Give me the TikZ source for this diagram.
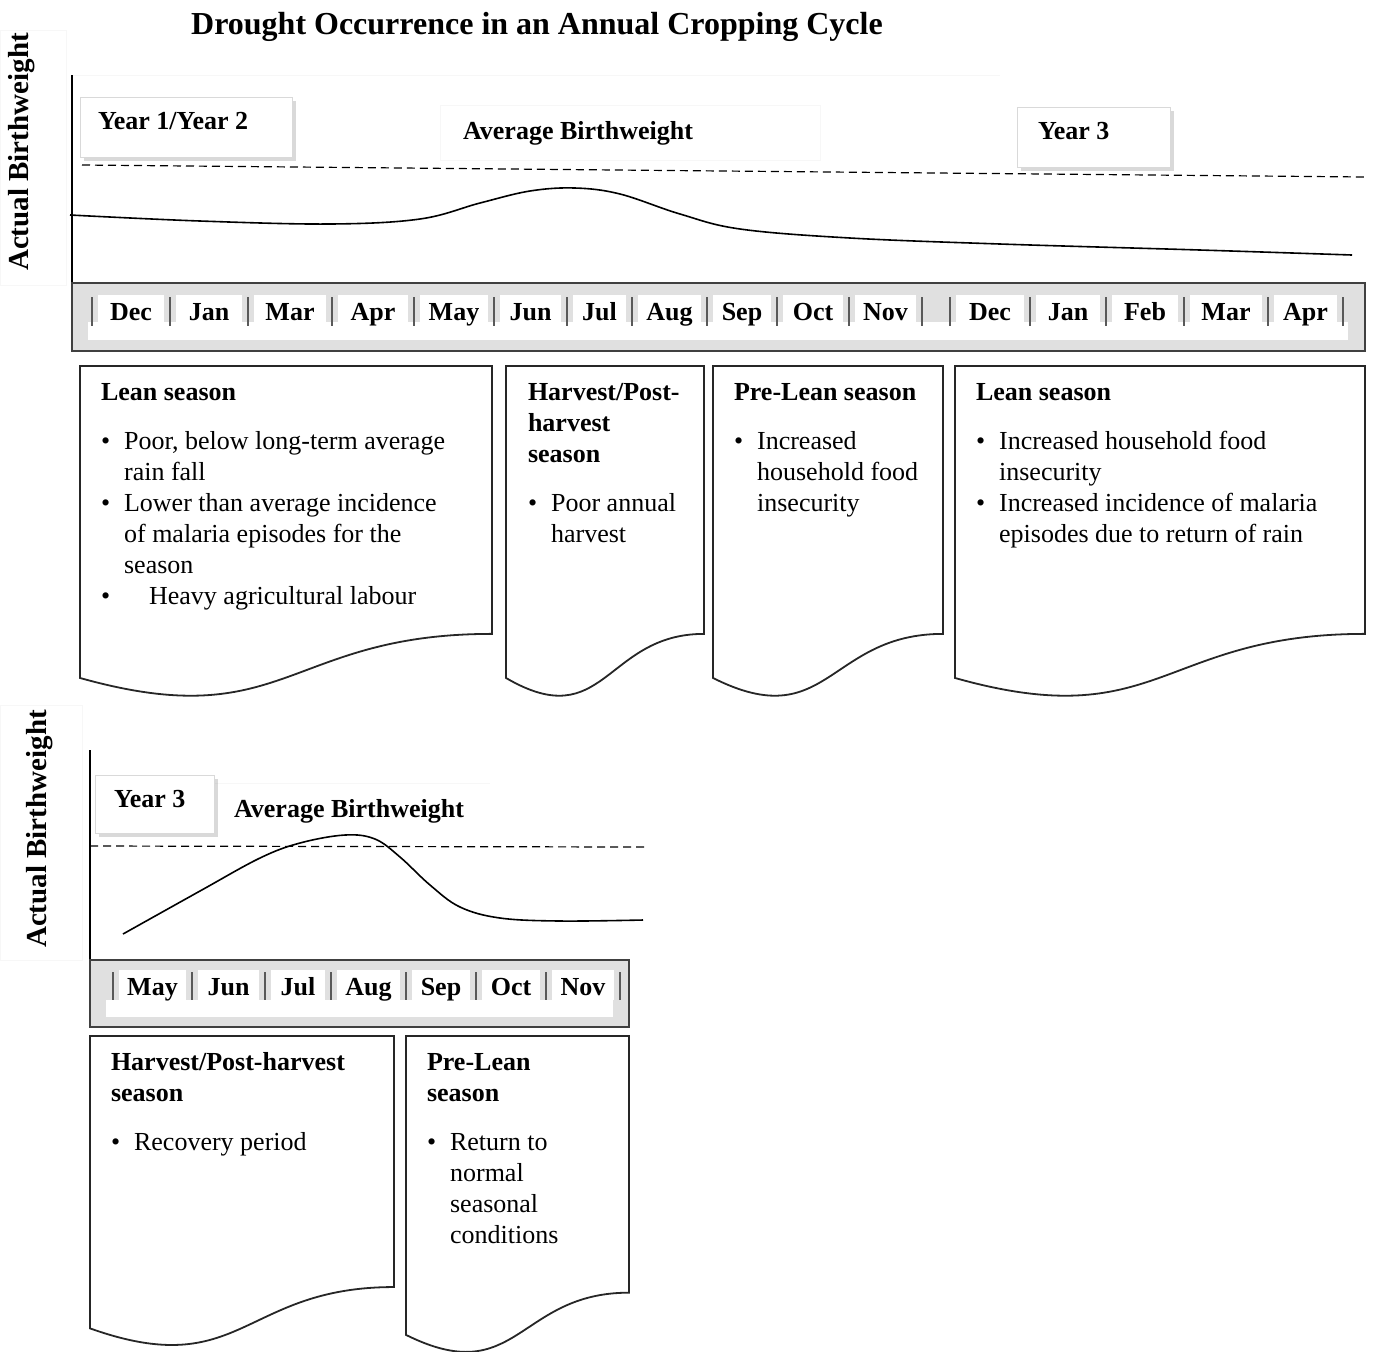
\documentclass[tikz,border=0pt]{standalone}
\usepackage{fontspec}
\setmainfont{Liberation Serif}
\usetikzlibrary{shadows}
\newcommand{\hd}[1]{\multicolumn{2}{@{}l@{}}{\bfseries #1}}

\begin{document}
\begin{tikzpicture}[x=0.5pt,y=-0.5pt,
        every node/.style={inner sep=0pt,outer sep=0pt},
        lbl/.style={font=\fontsize{13}{15.5}\selectfont\bfseries},
        mon/.style={lbl,anchor=base},
        axlbl/.style={font=\fontsize{14.5}{17}\selectfont\bfseries,rotate=90},
        yearbox/.style={draw=black!15,fill=white,drop shadow={shadow xshift=2pt,shadow yshift=-2pt,opacity=0.3}},
        seasontxt/.style={anchor=base west,font=\fontsize{13}{15.5}\selectfont},
        docbox/.style={draw=black!85,line width=0.9pt,fill=white},
        monbar/.style={draw=black!75,line width=1.2pt,fill=black!12},
        sep/.style={draw=black!65,line width=1.2pt},
        avg/.style={dash pattern=on 4pt off 2.5pt,line width=0.6pt},
        bw/.style={line width=0.8pt},
        faint/.style={draw=black!3,line width=0.5pt}]
        \useasboundingbox (0,0) rectangle (1374,1351);

        \node[font=\fontsize{16}{19}\selectfont\bfseries,anchor=base](title) at (537,34){Drought Occurrence in an Annual Cropping Cycle};

        \draw[faint](0,30) rectangle (66,285);
        \draw[faint](72,75)--(1000,75);
        \draw[faint](440,105) rectangle (820,160);
        \node[axlbl](ax1) at (22,152){Actual Birthweight};
        \draw[line width=1pt](72,75)--(72,283);

        \node[yearbox,minimum width=106pt,minimum height=30pt](yr12) at (186,127){};
        \node[lbl,anchor=base west](yr12txt) at (98,129){Year 1/Year 2};
        \node[lbl,anchor=base](avg1) at (578,139){Average Birthweight};
        \node[yearbox,minimum width=76.5pt,minimum height=30pt](yr3a) at (1093.5,137){};
        \node[lbl,anchor=base west](yr3atxt) at (1038,139){Year 3};

        \draw[avg](82,165)--(1365,177);
        \draw[bw] plot[smooth,tension=0.6] coordinates {(70,215) (200,221) (330,224) (420,219) (480,203) (530,191) (575,188) (620,194) (680,214) (740,229) (850,238) (1000,244) (1200,250) (1352,255)};

        \draw[monbar](72,283) rectangle (1365,351);
        \fill[white](88,322) rectangle (1348,340);
        \foreach \a/\b/\m [count=\i] in {92/170/Dec,170/248/Jan,248/332/Mar,332/414/Apr,414/494/May,494/567/Jun,567/632/Jul,632/707/Aug,707/777/Sep,777/849/Oct,849/922/Nov,950/1030/Dec,1030/1106/Jan,1106/1184/Feb,1184/1268/Mar,1268/1343/Apr}{
            \fill[white]({\a+6},295) rectangle ({\b-6},326);
            \node[mon](ma\i) at ({(\a+\b)/2},320){\m};
        }
        \foreach \x in {92,170,248,332,414,494,567,632,707,777,849,922,950,1030,1106,1184,1268,1343}
            \draw[sep](\x,297)--(\x,326);

        \foreach \xa/\xb/\yt/\h in {80/492/366/334,506/704/366/334,713/943/366/334,955/1365/366/334,90/394/1036/313,406/629/1036/320}
            \draw[docbox](\xa,\yt)--(\xb,\yt)--(\xb,{\yt+0.802*\h}) .. controls ({(\xa+\xb)/2},{\yt+0.802*\h}) and ({(\xa+\xb)/2},{\yt+1.107*\h}) .. (\xa,{\yt+0.934*\h})--cycle;

        \node[seasontxt](lean1) at (101,400){\begin{tabular}[t]{@{}l@{\hspace{7pt}}l@{}}
            \hd{Lean season}\\[9pt]
            \textbullet & Poor, below long-term average\\
            & rain fall\\
            \textbullet & Lower than average incidence\\
            & of malaria episodes for the\\
            & season\\
            \textbullet & \hspace{12.5pt}Heavy agricultural labour
        \end{tabular}};
        \node[seasontxt](harv1) at (528,400){\begin{tabular}[t]{@{}l@{\hspace{7pt}}l@{}}
            \hd{Harvest/Post-}\\
            \hd{harvest}\\
            \hd{season}\\[9pt]
            \textbullet & Poor annual\\
            & harvest
        \end{tabular}};
        \node[seasontxt](prelean1) at (734,400){\begin{tabular}[t]{@{}l@{\hspace{7pt}}l@{}}
            \hd{Pre-Lean season}\\[9pt]
            \textbullet & Increased\\
            & household food\\
            & insecurity
        \end{tabular}};
        \node[seasontxt](lean2) at (976,400){\begin{tabular}[t]{@{}l@{\hspace{7pt}}l@{}}
            \hd{Lean season}\\[9pt]
            \textbullet & Increased household food\\
            & insecurity\\
            \textbullet & Increased incidence of malaria\\
            & episodes due to return of rain
        \end{tabular}};

        \draw[faint](0,705) rectangle (82,960);
        \draw[faint](214,783)--(490,783);
        \node[axlbl](ax2) at (40,829){Actual Birthweight};
        \draw[line width=1pt](90,750)--(90,960);

        \node[yearbox,minimum width=59.5pt,minimum height=29pt](yr3b) at (154.5,804){};
        \node[lbl,anchor=base west](yr3btxt) at (114,807){Year 3};
        \node[lbl,anchor=base](avg2) at (349,817){Average Birthweight};

        \draw[avg](90,846)--(645,847);
        \draw[bw] plot[smooth,tension=0.6] coordinates {(123,934) (200,891) (260,858) (300,843) (345,835) (375,839) (400,857) (430,885) (460,907) (500,918) (560,921) (643,920)};

        \draw[monbar](90,960) rectangle (629,1027);
        \fill[white](106,1000) rectangle (613,1017);
        \foreach \a/\b/\m [count=\i] in {113/192/May,192/265/Jun,265/331/Jul,331/406/Aug,406/476/Sep,476/546/Oct,546/620/Nov}{
            \fill[white]({\a+6},970) rectangle ({\b-6},1000);
            \node[mon](mb\i) at ({(\a+\b)/2},995){\m};
        }
        \foreach \x in {113,192,265,331,406,476,546,620}
            \draw[sep](\x,972)--(\x,1000);

        \node[seasontxt](harv2) at (111,1070){\begin{tabular}[t]{@{}l@{\hspace{7pt}}l@{}}
            \hd{Harvest/Post-harvest}\\
            \hd{season}\\[9pt]
            \textbullet & Recovery period
        \end{tabular}};
        \node[seasontxt](prelean2) at (427,1070){\begin{tabular}[t]{@{}l@{\hspace{7pt}}l@{}}
            \hd{Pre-Lean}\\
            \hd{season}\\[9pt]
            \textbullet & Return to\\
            & normal\\
            & seasonal\\
            & conditions
        \end{tabular}};
    \end{tikzpicture}
\end{document}
